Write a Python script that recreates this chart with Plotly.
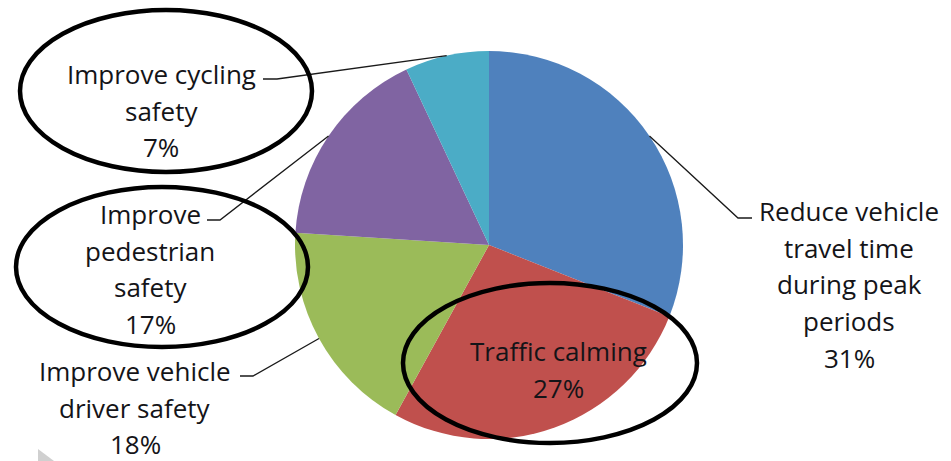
import math
import plotly.graph_objects as go

# ---- data ----
labels = ["Reduce vehicle travel time during peak periods", "Traffic calming",
          "Improve vehicle driver safety", "Improve pedestrian safety",
          "Improve cycling safety"]
values = [31, 27, 18, 17, 7]
colors = ["#4F81BD", "#C0504D", "#9BBB59", "#8064A2", "#4BACC6"]
label_lines = [
    ["Reduce vehicle", "travel time", "during peak", "periods"],
    ["Traffic calming"],
    ["Improve vehicle", "driver safety"],
    ["Improve", "pedestrian", "safety"],
    ["Improve cycling", "safety"],
]

# ---- layout constants (pixels) ----
W, H = 951, 461
CX, CY, R = 489, 245, 194
FONT = "Open Sans"
FS = 26
LINE = 36.7

def px(x):
    return x / W

def py(y):
    return 1 - y / H

# label placements: (center x, first line y)
label_pos = [(849, 211), (558, 351), (135, 371), (150, 214), (161, 74)]
# leader: (stub start x, stub end x, stub y) or None
leaders = [(752, 738, 218), None, (240, 253, 376), (207, 220, 220), (263, 277, 79)]
# ellipses: (cx, cy, rx, ry)
ellipses = [(166, 91, 146, 81), (162, 267, 146, 80), (550, 363, 147, 80)]

fig = go.Figure(go.Pie(
    labels=labels, values=values, sort=False, direction="clockwise",
    rotation=0, marker=dict(colors=colors, line=dict(width=0)),
    textinfo="none", hoverinfo="label+percent", showlegend=False,
    domain=dict(x=[px(CX - R), px(CX + R)], y=[py(CY + R), py(CY - R)]),
))

total = sum(values)
cum = 0
shapes = []
annotations = []
for i, (v, lines) in enumerate(zip(values, label_lines)):
    mid = (cum + v / 2) / total * 2 * math.pi
    cum += v
    ex = CX + R * math.sin(mid)
    ey = CY - R * math.cos(mid)
    pct = f"{round(v / total * 100)}%"
    all_lines = lines + [pct]
    lx, ly = label_pos[i]
    for k, t in enumerate(all_lines):
        annotations.append(dict(
            x=px(lx), y=py(ly + k * LINE), xref="paper", yref="paper",
            text=t, showarrow=False, xanchor="center", yanchor="middle",
            font=dict(family=FONT, size=FS, color="#141418")))
    if leaders[i]:
        x0, x1, y0 = leaders[i]
        shapes.append(dict(
            type="path", xref="paper", yref="paper",
            path=f"M {px(x0)} {py(y0)} L {px(x1)} {py(y0)} L {px(ex)} {py(ey)}",
            line=dict(color="#1a1a1a", width=1.3)))

for (ecx, ecy, rx, ry) in ellipses:
    shapes.append(dict(
        type="circle", xref="paper", yref="paper",
        x0=px(ecx - rx), x1=px(ecx + rx), y0=py(ecy + ry), y1=py(ecy - ry),
        line=dict(color="black", width=4.5)))

# small grey corner artifact
shapes.append(dict(type="path", xref="paper", yref="paper",
                   path=f"M {px(38)} {py(449)} L {px(38)} {py(461)} L {px(54)} {py(461)} Z",
                   fillcolor="#d0d0d0", line=dict(width=0)))

fig.update_layout(
    width=W, height=H, margin=dict(l=0, r=0, t=0, b=0),
    paper_bgcolor="white", plot_bgcolor="white",
    shapes=shapes, annotations=annotations,
)
fig.write_html("out.html")
